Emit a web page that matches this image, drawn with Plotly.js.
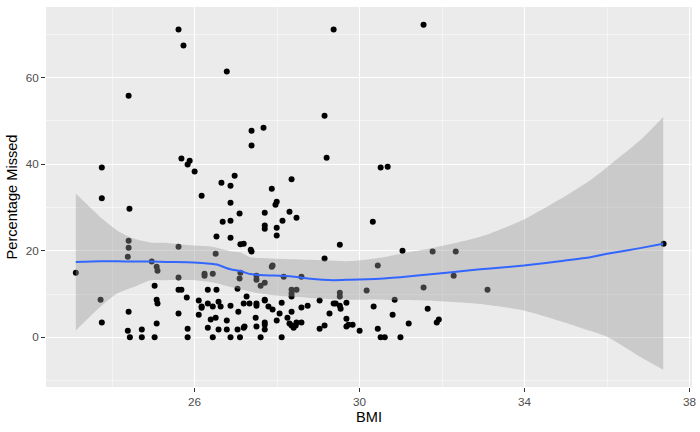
<!DOCTYPE html>
<html>
<head>
<meta charset="utf-8">
<script src="https://cdn.plot.ly/plotly-3.0.1.min.js"></script>
<style>
  html, body { margin: 0; padding: 0; background: #ffffff; }
  #plot { width: 700px; height: 432px; }
</style>
</head>
<body>
<div id="plot"></div>
<script>
// BMI vs percentage missed
const bmi = [
    23.12, 23.72, 23.75, 23.75, 23.75, 24.38, 24.38, 24.40, 24.40, 24.40,
    24.40, 24.42, 24.43, 24.72, 24.72, 24.96, 25.03, 25.03, 25.08, 25.08,
    25.08, 25.10, 25.10, 25.61, 25.61, 25.61, 25.61, 25.61, 25.68, 25.68,
    25.73, 25.81, 25.83, 25.83, 25.83, 25.88, 26.00, 26.10, 26.10, 26.17,
    26.17, 26.17, 26.24, 26.24, 26.32, 26.32, 26.32, 26.39, 26.44, 26.44,
    26.44, 26.51, 26.51, 26.53, 26.53, 26.58, 26.58, 26.63, 26.65, 26.68,
    26.78, 26.78, 26.78, 26.87, 26.87, 26.87, 26.87, 26.87, 26.87, 26.97,
    27.04, 27.04, 27.06, 27.09, 27.11, 27.19, 27.11, 27.09, 27.10, 27.19,
    27.19, 27.21, 27.26, 27.33, 27.36, 27.38, 27.38, 27.38, 27.48, 27.50,
    27.50, 27.50, 27.50, 27.50, 27.60, 27.60, 27.67, 27.70, 27.70, 27.70,
    27.70, 27.70, 27.70, 27.70, 27.70, 27.70, 27.79, 27.87, 27.87, 27.89,
    27.89, 27.96, 27.99, 27.99, 27.99, 27.99, 28.06, 28.11, 28.11, 28.13,
    28.16, 28.25, 28.30, 28.30, 28.35, 28.35, 28.35, 28.35, 28.35, 28.35,
    28.40, 28.45, 28.47, 28.47, 28.47, 28.59, 28.59, 28.59, 28.74, 29.03,
    29.03, 29.15, 29.15, 29.15, 29.20, 29.27, 29.37, 29.37, 29.42, 29.52,
    29.52, 29.52, 29.52, 29.54, 29.68, 29.68, 29.68, 29.73, 29.83, 30.00,
    30.17, 30.32, 30.34, 30.44, 30.44, 30.51, 30.51, 30.61, 30.68, 30.80,
    30.85, 30.99, 31.04, 31.19, 31.55, 31.55, 31.65, 31.77, 31.87, 31.92,
    32.28, 32.33, 33.10, 37.37
];
const missed = [
    14.9, 8.7, 3.4, 32.1, 39.2, 18.6, 1.5, 5.9, 20.7, 22.3,
    55.8, 29.7, 0, 1.8, 0, 17.5, 11.9, 0, 16.3, 8.7,
    3.2, 15.4, 7.8, 71.1, 20.9, 13.8, 11.0, 5.5, 11.0, 41.3,
    67.4, 9.2, 39.9, 2.0, 0, 40.8, 38.3, 8.5, 5.2, 32.7,
    7.1, 6.8, 14.7, 14.2, 11.0, 7.8, 2.2, 4.1, 14.7, 7.1,
    0, 19.3, 4.5, 23.3, 11.0, 8.2, 1.8, 7.1, 35.7, 26.7,
    61.4, 3.9, 1.8, 35.0, 31.1, 26.9, 23.0, 7.3, 0, 37.3,
    11.2, 1.8, 5.9, 28.6, 21.5, 21.6, 14.9, 13.6, 0, 7.8,
    2.2, 2.5, 9.4, 7.8, 20.2, 19.8, 47.7, 44.3, 4.5, 14.2,
    13.3, 7.8, 7.3, 2.5, 11.9, 0, 48.4, 28.8, 25.8, 25.1,
    12.6, 8.7, 8.5, 3.4, 2.9, 1.8, 7.1, 34.3, 16.3, 16.6,
    6.4, 30.6, 31.3, 25.3, 23.5, 3.9, 5.5, 8.0, 0, 26.9,
    14.0, 4.5, 29.0, 3.2, 36.5, 11.0, 10.1, 9.4, 5.9, 2.7,
    2.2, 2.7, 3.4, 27.6, 11.0, 14.0, 6.9, 3.4, 7.3, 8.5,
    2.0, 51.2, 18.2, 2.7, 41.5, 5.5, 71.1, 7.8, 7.8, 21.4,
    10.3, 9.4, 7.3, 6.6, 8.0, 4.3, 2.5, 2.9, 2.9, 1.5,
    10.8, 26.7, 7.1, 16.6, 2.0, 39.2, 0, 0, 39.4, 5.2,
    8.7, 0, 20.0, 3.2, 72.2, 11.5, 6.6, 19.8, 3.4, 4.1,
    14.2, 19.8, 11.0, 21.6
];

// loess smooth with its confidence band
const smoothX = [
    23.12, 23.71, 24.12, 24.52, 24.93, 25.33, 25.98, 26.38, 26.54, 26.87,
    27.11, 27.35, 27.59, 27.84, 28.16, 28.56, 28.81, 29.37, 29.77, 30.18,
    30.58, 30.99, 31.79, 32.68, 33.17, 33.98, 34.95, 35.59, 36.00, 36.80,
    37.36
];
const smoothFit = [
    17.4, 17.55, 17.55, 17.5, 17.5, 17.4, 17.3, 17.0, 16.8, 15.7,
    15.3, 14.6, 14.4, 14.3, 14.2, 13.8, 13.5, 13.2, 13.3, 13.4,
    13.6, 13.9, 14.6, 15.5, 15.9, 16.6, 17.7, 18.5, 19.3, 20.6,
    21.6
];
const smoothLow = [
    1.6, 7.0, 10.1, 11.6, 13.2, 13.2, 13.2, 12.8, 12.5, 11.6,
    11.1, 10.6, 10.1, 9.8, 9.5, 9.3, 9.1, 8.8, 8.7, 8.7,
    8.7, 8.6, 8.4, 7.9, 7.4, 6.2, 3.5, 1.5, 0.1, -4.5,
    -7.5
];
const smoothHigh = [
    33.2, 27.8, 24.7, 22.8, 21.9, 21.8, 21.2, 21.0, 20.7, 19.9,
    19.6, 18.5, 18.3, 18.2, 18.1, 18.0, 17.9, 17.7, 17.6, 18.0,
    18.5, 19.3, 20.7, 22.6, 24.0, 27.2, 32.4, 36.3, 39.3, 45.5,
    50.9
];

const xTicks = [26, 30, 34, 38];
const yTicks = [0, 20, 40, 60];

const tickFont = { family: "Liberation Sans, Arial, sans-serif", size: 11.7, color: "#4D4D4D" };
const titleFont = { family: "Liberation Sans, Arial, sans-serif", size: 14.6, color: "#000000" };

const traces = [
    {
        type: "scatter",
        mode: "markers",
        x: bmi,
        y: missed,
        marker: { color: "#000000", size: 6 },
        hoverinfo: "skip"
    },
    {
        type: "scatter",
        mode: "lines",
        x: smoothX,
        y: smoothHigh,
        line: { width: 0, shape: "spline", smoothing: 0.6 },
        hoverinfo: "skip"
    },
    {
        type: "scatter",
        mode: "lines",
        x: smoothX,
        y: smoothLow,
        fill: "tonexty",
        fillcolor: "rgba(153,153,153,0.4)",
        line: { width: 0, shape: "spline", smoothing: 0.6 },
        hoverinfo: "skip"
    },
    {
        type: "scatter",
        mode: "lines",
        x: smoothX,
        y: smoothFit,
        line: { color: "#3366FF", width: 2, shape: "spline", smoothing: 0.6 },
        hoverinfo: "skip"
    }
];

const layout = {
    width: 700,
    height: 432,
    margin: { l: 46, r: 8, t: 7, b: 45 },
    paper_bgcolor: "#FFFFFF",
    plot_bgcolor: "#EBEBEB",
    showlegend: false,
    xaxis: {
        range: [22.397, 38.058],
        tickvals: xTicks,
        ticktext: xTicks.map(String),
        ticks: "outside",
        ticklen: 4,
        tickwidth: 1.1,
        tickcolor: "#333333",
        tickfont: tickFont,
        showgrid: true,
        gridcolor: "#FFFFFF",
        gridwidth: 1.1,
        zeroline: false,
        showline: false,
        minor: { tickvals: [24, 28, 32, 36], showgrid: true, gridcolor: "#FFFFFF", gridwidth: 0.5, ticks: "" },
        title: { text: "BMI", font: titleFont, standoff: 4 }
    },
    yaxis: {
        range: [-11.48, 76.3],
        tickvals: yTicks,
        ticktext: yTicks.map(String),
        ticks: "outside",
        ticklen: 4,
        tickwidth: 1.1,
        tickcolor: "#333333",
        tickfont: tickFont,
        showgrid: true,
        gridcolor: "#FFFFFF",
        gridwidth: 1.1,
        zeroline: false,
        showline: false,
        minor: { tickvals: [-10, 10, 30, 50, 70], showgrid: true, gridcolor: "#FFFFFF", gridwidth: 0.5, ticks: "" },
        title: { text: "Percentage Missed", font: titleFont, standoff: 4 }
    }
};

Plotly.newPlot("plot", traces, layout, { staticPlot: true, displayModeBar: false });
</script>
</body>
</html>
